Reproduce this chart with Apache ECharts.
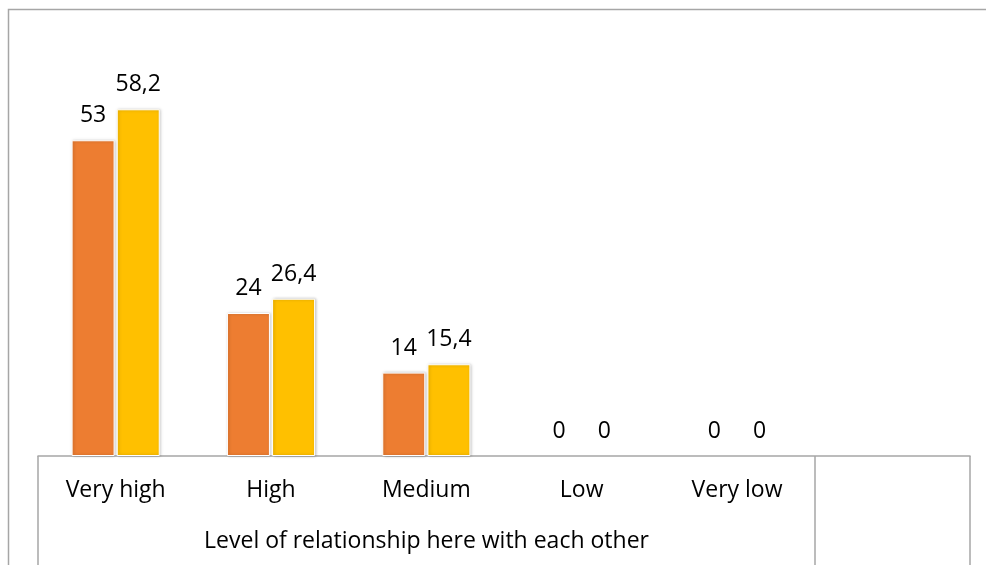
<!DOCTYPE html>
<html>
<head>
<meta charset="utf-8">
<script src="https://cdn.jsdelivr.net/npm/echarts@6/dist/echarts.min.js"></script>
<style>
  html, body { margin: 0; padding: 0; background: #fff; }
  #chart { width: 986px; height: 565px; }
</style>
</head>
<body>
<div id="chart"></div>
<script>
// data
var categories = ['Very high', 'High', 'Medium', 'Low', 'Very low', ''];
var seriesA = [53, 24, 14, 0, 0, null];
var seriesB = [58.2, 26.4, 15.4, 0, 0, null];
var axisTitle = 'Level of relationship here with each other';

var font = '"Open Sans", sans-serif';
var lineColor = '#a6a6a6';
var fs = 23;

var chart = echarts.init(document.getElementById('chart'));

// comma as decimal separator, like the original
function fmt(p) {
    return String(p.value).replace('.', ',');
}

var barStyle = function (color) {
    return {
        color: color,
        borderColor: '#fff',
        borderWidth: 1,
        shadowColor: 'rgba(0,0,0,0.25)',
        shadowBlur: 3,
        shadowOffsetX: 1
    };
};

// zero bars: keep the label, drop the border/shadow sliver
function items(arr) {
    return arr.map(function (v) {
        if (v === 0) {
            return { value: v, itemStyle: { color: 'transparent', borderColor: 'transparent', borderWidth: 0, shadowBlur: 0, shadowOffsetX: 0 } };
        }
        return v;
    });
}

var label = { show: true, position: 'top', distance: 13, fontSize: fs, color: '#000', formatter: fmt };

chart.setOption({
    animation: false,
    textStyle: { fontFamily: font },
    grid: { left: 38, right: 16, top: 39, bottom: 109 },
    xAxis: [
        {
            type: 'category',
            data: categories,
            axisLine: { lineStyle: { color: lineColor, width: 1.5 } },
            axisTick: { show: false },
            axisLabel: { color: '#000', fontSize: fs, margin: 23, fontFamily: font },
            name: axisTitle,
            nameLocation: 'middle',
            nameGap: 74,
            nameTextStyle: { color: '#000', fontSize: fs, fontFamily: font, padding: [0, 155, 0, 0] }
        },
        {
            // only used for the table dividers below the axis
            type: 'value',
            position: 'bottom',
            min: 0,
            max: 6,
            interval: 5,
            axisLine: { show: false },
            axisLabel: { show: false },
            splitLine: { show: false },
            axisTick: { show: true, length: 115, lineStyle: { color: lineColor, width: 1.5 } }
        }
    ],
    yAxis: {
        type: 'value',
        min: 0,
        max: 70,
        show: false
    },
    series: [
        {
            type: 'bar',
            data: items(seriesA),
            barWidth: 43,
            barGap: '5%',
            itemStyle: barStyle('#ed7d31'),
            label: label
        },
        {
            type: 'bar',
            data: items(seriesB),
            barWidth: 43,
            barGap: '5%',
            itemStyle: barStyle('#ffc000'),
            label: label
        }
    ],
    graphic: [
        {
            type: 'polyline',
            shape: { points: [[8.5, 565], [8.5, 9.5], [986, 9.5]] },
            style: { stroke: lineColor, lineWidth: 1.5, fill: null }
        }
    ]
});
</script>
</body>
</html>
